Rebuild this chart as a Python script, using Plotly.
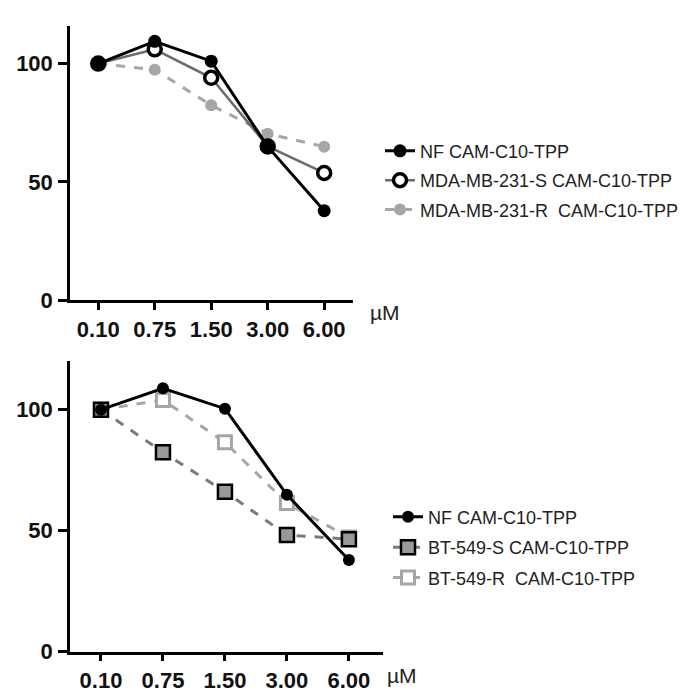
import plotly.graph_objects as go

doses = ["0.10", "0.75", "1.50", "3.00", "6.00"]

# Top panel (MDA-MB-231)
nf_top = [100, 109.4, 101.0, 64.9, 37.9]
mda_s = [100, 106.0, 94.0, 65.0, 53.8]
mda_r = [100, 97.4, 82.4, 70.4, 64.9]

# Bottom panel (BT-549)
nf_bot = [100, 108.8, 100.4, 64.8, 37.9]
bt_s = [100, 82.4, 66.1, 48.2, 46.5]
bt_r = [100, 104.0, 86.5, 61.4, 47.2]

names_top = ["NF CAM-C10-TPP", "MDA-MB-231-S CAM-C10-TPP", "MDA-MB-231-R  CAM-C10-TPP"]
names_bot = ["NF CAM-C10-TPP", "BT-549-S CAM-C10-TPP", "BT-549-R  CAM-C10-TPP"]

FONT = "Arial, Liberation Sans, sans-serif"

fig = go.Figure()

# top panel traces (drawn back to front)
fig.add_trace(go.Scatter(x=doses, y=mda_r, name=names_top[2], mode="lines+markers",
                         line=dict(color="#a6a6a6", width=3, dash="dash"),
                         marker=dict(symbol="circle", size=12, color="#a6a6a6"),
                         xaxis="x", yaxis="y", legend="legend", legendrank=3, cliponaxis=False))
fig.add_trace(go.Scatter(x=doses, y=mda_s, name=names_top[1], mode="lines+markers",
                         line=dict(color="#6b6b6b", width=2.5),
                         marker=dict(symbol="circle", size=13, color="white",
                                     line=dict(color="black", width=3.5)),
                         xaxis="x", yaxis="y", legend="legend", legendrank=2, cliponaxis=False))
fig.add_trace(go.Scatter(x=doses, y=nf_top, name=names_top[0], mode="lines+markers",
                         line=dict(color="black", width=3),
                         marker=dict(symbol="circle", size=13, color="black"),
                         xaxis="x", yaxis="y", legend="legend", legendrank=1, cliponaxis=False))

# bottom panel traces
fig.add_trace(go.Scatter(x=doses, y=bt_r, name=names_bot[2], mode="lines+markers",
                         line=dict(color="#a6a6a6", width=3, dash="dash"),
                         marker=dict(symbol="square", size=13, color="white",
                                     line=dict(color="#a6a6a6", width=3)),
                         xaxis="x2", yaxis="y2", legend="legend2", legendrank=3, cliponaxis=False))
fig.add_trace(go.Scatter(x=doses, y=bt_s, name=names_bot[1], mode="lines+markers",
                         line=dict(color="#7a7a7a", width=3, dash="dash"),
                         marker=dict(symbol="square", size=14, color="#999999",
                                     line=dict(color="black", width=2.5)),
                         xaxis="x2", yaxis="y2", legend="legend2", legendrank=2, cliponaxis=False))
fig.add_trace(go.Scatter(x=doses, y=nf_bot, name=names_bot[0], mode="lines+markers",
                         line=dict(color="black", width=3),
                         marker=dict(symbol="circle", size=12, color="black"),
                         xaxis="x2", yaxis="y2", legend="legend2", legendrank=1, cliponaxis=False))

tickfont = dict(family=FONT, size=22, color="#111111", weight="bold")
common_x = dict(type="category", showline=True, linecolor="black", linewidth=2.5,
                ticks="outside", ticklen=7, tickwidth=2.5, tickcolor="black",
                showgrid=False, zeroline=False, tickfont=tickfont)
common_y = dict(showline=True, linecolor="black", linewidth=2.5,
                ticks="outside", ticklen=9, tickwidth=2.5, tickcolor="black",
                showgrid=False, zeroline=False, tickfont=tickfont,
                tickvals=[0, 50, 100], ticklabelstandoff=1)

legfont = dict(family=FONT, size=18, color="#222222")

fig.update_layout(
    width=692, height=693,
    margin=dict(l=0, r=0, t=0, b=0),
    paper_bgcolor="white", plot_bgcolor="white",
    xaxis=dict(domain=[62/692, 345/692], anchor="y", range=[-0.5, 4.51], **common_x),
    yaxis=dict(domain=[1-298/693, 1-18/693], anchor="x", range=[0, 116], **common_y),
    xaxis2=dict(domain=[62/692, 375/692], anchor="y2", range=[-0.5, 4.55], **common_x),
    yaxis2=dict(domain=[1-656/693, 1-360/693], anchor="x2", range=[0, 120], **common_y),
    legend=dict(x=372/692, y=1-127/693, xanchor="left", yanchor="top",
                font=legfont, bgcolor="rgba(0,0,0,0)", tracegroupgap=3,
                traceorder="grouped", itemwidth=30),
    legend2=dict(x=380/692, y=1-500/693, xanchor="left", yanchor="top",
                 font=legfont, bgcolor="rgba(0,0,0,0)", tracegroupgap=4,
                 traceorder="grouped", itemwidth=30),
    showlegend=True,
    annotations=[
        dict(text="µM", x=360/692, y=1-310/693, xref="paper", yref="paper",
             xanchor="left", yanchor="middle", showarrow=False,
             font=dict(family=FONT, size=21, color="#222222")),
        dict(text="µM", x=377/692, y=1-680/693, xref="paper", yref="paper",
             xanchor="left", yanchor="middle", showarrow=False,
             font=dict(family=FONT, size=21, color="#222222")),
    ],
)

# put each trace in its own group
for i, tr in enumerate(fig.data):
    tr.legendgroup = f"g{i}"

fig.write_html("out.html")
